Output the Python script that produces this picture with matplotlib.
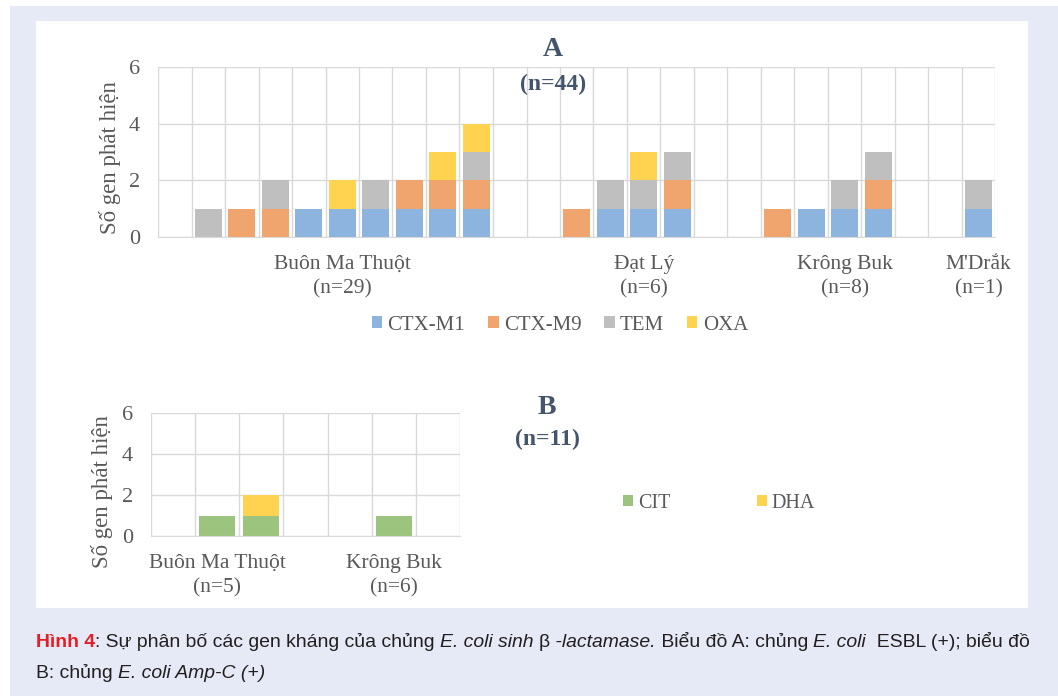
import matplotlib
matplotlib.use("Agg")
import matplotlib.pyplot as plt
from matplotlib.patches import Rectangle
import numpy as np

# ---- data (chart A, one bar per isolate slot) ----
ctx_m1 = [0, 0, 0, 0, 1, 1, 1, 1, 1, 1, 0, 0, 0, 1, 1, 1, 0, 0, 0, 1, 1, 1, 0, 0, 1]
ctx_m9 = [0, 0, 1, 1, 0, 0, 0, 1, 1, 1, 0, 0, 1, 0, 0, 1, 0, 0, 1, 0, 0, 1, 0, 0, 0]
tem    = [0, 1, 0, 1, 0, 0, 1, 0, 0, 1, 0, 0, 0, 1, 1, 1, 0, 0, 0, 0, 1, 1, 0, 0, 1]
oxa    = [0, 0, 0, 0, 0, 1, 0, 0, 1, 1, 0, 0, 0, 0, 1, 0, 0, 0, 0, 0, 0, 0, 0, 0, 0]
groups_a = ["Buôn Ma Thuột\n(n=29)", "Đạt Lý\n(n=6)", "Krông Buk\n(n=8)", "M'Drắk\n(n=1)"]
group_pos_a = [5, 14, 20, 24]

# ---- data (chart B) ----
cit = [0, 1, 1, 0, 0, 1, 0]
dha = [0, 0, 1, 0, 0, 0, 0]
groups_b = ["Buôn Ma Thuột\n(n=5)", "Krông Buk\n(n=6)"]
group_pos_b = [1, 5]

c_blue = "#8db4df"
c_orange = "#f0a46e"
c_gray = "#bfbfbf"
c_yellow = "#ffd34f"
c_green = "#9dc47e"
c_title = "#44546a"
c_tick = "#595959"
c_grid = "#d9d9d9"
serif = "Liberation Serif"

W, H = 1058, 696
fig = plt.figure(figsize=(W / 100, H / 100), dpi=100)
fig.patch.set_facecolor("white")


def px(x0, y0, w, h):
    # pixel box (top-left origin) -> figure fraction
    return [x0 / W, 1 - (y0 + h) / H, w / W, h / H]


# backgrounds
fig.patches.append(Rectangle((10 / W, 0), 1 - 10 / W, 1 - 6 / H, transform=fig.transFigure,
                             facecolor="#e6eaf6", edgecolor="none", zorder=-2))
fig.patches.append(Rectangle((36 / W, 1 - 608 / H), (1028 - 36) / W, (608 - 21) / H,
                             transform=fig.transFigure, facecolor="white", edgecolor="none", zorder=-1))


def style_axes(ax, n, positions, labels):
    ax.set_xlim(-0.5, n - 0.5)
    ax.set_ylim(0, 6)
    ax.set_yticks([0, 2, 4, 6])
    ax.set_xticks(positions)
    ax.set_xticklabels(labels, fontfamily=serif, fontsize=15.5, color=c_tick, linespacing=1.38)
    ax.set_xticks(np.arange(-0.5, n, 1.0), minor=True)
    ax.tick_params(axis="x", which="both", length=0, pad=13)
    ax.tick_params(axis="y", length=0, pad=13, labelsize=16, labelcolor=c_tick)
    for lab in ax.get_yticklabels():
        lab.set_fontfamily(serif)
    ax.grid(axis="y", color=c_grid, lw=1)
    ax.grid(axis="x", which="minor", color=c_grid, lw=1)
    ax.set_axisbelow(True)
    for s in ["top", "right", "left"]:
        ax.spines[s].set_visible(False)
    ax.spines["bottom"].set_color(c_grid)
    ax.set_facecolor("none")


# ---------------- chart A ----------------
axA = fig.add_axes(px(158, 67, 837.5, 170))
xa = np.arange(len(ctx_m1))
bottom = np.zeros(len(xa))
for vals, col, name in [(ctx_m1, c_blue, "CTX-M1"), (ctx_m9, c_orange, "CTX-M9"),
                        (tem, c_gray, "TEM"), (oxa, c_yellow, "OXA")]:
    axA.bar(xa, vals, bottom=bottom, width=0.8, color=col, label=name)
    bottom += np.array(vals)
style_axes(axA, len(xa), group_pos_a, groups_a)
axA.set_ylabel("Số gen phát hiện", fontfamily=serif, fontsize=16.5, color=c_tick)
axA.yaxis.set_label_coords(-(158 - 121) / 837.5, 0.47)

fig.text(553 / W, 1 - 50 / H, "A", ha="center", va="center", fontfamily=serif,
         fontweight="bold", fontsize=20, color=c_title)
fig.text(553 / W, 1 - 84 / H, "(n=44)", ha="center", va="center", fontfamily=serif,
         fontweight="bold", fontsize=17, color=c_title)

hA, lA = axA.get_legend_handles_labels()
fig.legend(hA, lA, loc="center", bbox_to_anchor=(560 / W, 1 - 325 / H), ncol=4, frameon=False,
           handlelength=0.5, handleheight=0.5, handletextpad=0.25, columnspacing=1.1,
           prop={"family": serif, "size": 15}, labelcolor=c_tick)

# ---------------- chart B ----------------
axB = fig.add_axes(px(151, 413, 309, 123))
xb = np.arange(len(cit))
axB.bar(xb, cit, width=0.82, color=c_green, label="CIT")
axB.bar(xb, dha, bottom=cit, width=0.82, color=c_yellow, label="DHA")
style_axes(axB, len(xb), group_pos_b, groups_b)
axB.set_ylabel("Số gen phát hiện", fontfamily=serif, fontsize=16.5, color=c_tick)
axB.yaxis.set_label_coords(-(151 - 113) / 309, 0.36)

fig.text(547 / W, 1 - 408 / H, "B", ha="center", va="center", fontfamily=serif,
         fontweight="bold", fontsize=20, color=c_title)
fig.text(547 / W, 1 - 439 / H, "(n=11)", ha="center", va="center", fontfamily=serif,
         fontweight="bold", fontsize=17, color=c_title)

hB, lB = axB.get_legend_handles_labels()
fig.legend(hB, lB, loc="center", bbox_to_anchor=(719 / W, 1 - 503 / H), ncol=2, frameon=False,
           handlelength=0.5, handleheight=0.5, handletextpad=0.25, columnspacing=4.3,
           prop={"family": serif, "size": 14.5}, labelcolor=c_tick)

# ---------------- caption ----------------
cap_font = ["Liberation Sans", "DejaVu Sans"]
dark = "#231f20"
line1 = [("Hình 4", "normal", "bold", "#e31e24"),
         (": Sự phân bố các gen kháng của chủng ", "normal", "normal", dark),
         ("E. coli sinh ", "italic", "normal", dark),
         ("β", "normal", "normal", dark),
         (" -lactamase.", "italic", "normal", dark),
         (" Biểu đồ A: chủng ", "normal", "normal", dark),
         ("E. coli", "italic", "normal", dark),
         ("  ESBL (+); biểu đồ", "normal", "normal", dark)]
line2 = [("B: chủng ", "normal", "normal", dark),
         ("E. coli Amp-C (+)", "italic", "normal", dark)]

renderer = fig.canvas.get_renderer()


def put_line(parts, y_px, size):
    x = 36.0
    made = []
    for txt, style, weight, col in parts:
        t = fig.text(x / W, 1 - y_px / H, txt, ha="left", va="baseline", fontsize=size,
                     fontstyle=style, fontweight=weight, color=col, family=cap_font)
        made.append(t)
        x = t.get_window_extent(renderer).x1
    return x, made


# fit line 1 into the panel width (reference uses a condensed face)
end, tmp = put_line(line1, 647, 13)
for t in tmp:
    t.remove()
size = 13 * (1027 - 36) / (end - 36)
put_line(line1, 647, size)
put_line(line2, 678, size)

fig.savefig("out.png", dpi=100)
